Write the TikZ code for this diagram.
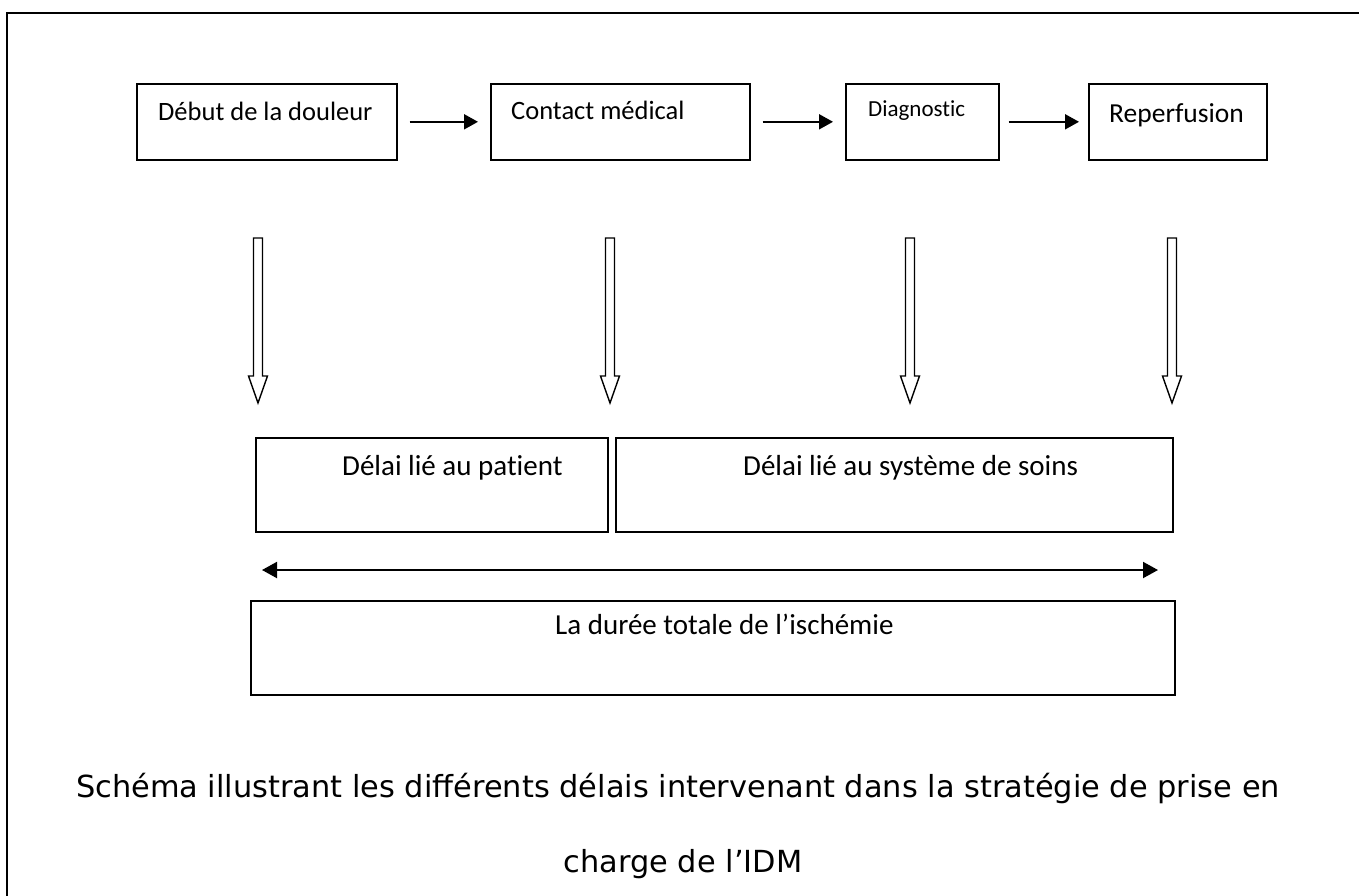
\documentclass[tikz,border=0pt]{standalone}
\usepackage{fontspec}
\setmainfont{Carlito}[Ligatures=NoCommon]
\newfontfamily\capfont{DejaVu Sans}
\usetikzlibrary{arrows.meta}
\tikzset{
  boxnode/.style={draw, line width=1.6pt, rectangle, inner sep=0pt, anchor=north west},
  lbl/.style={anchor=base west, inner sep=0pt, font=\fontsize{26.5}{30}\selectfont},
  lblb/.style={anchor=base west, inner sep=0pt, font=\fontsize{29}{32}\selectfont},
  flow/.style={line width=2pt, -{Triangle[length=14pt,width=15pt]}},
  hollow/.style={draw, line width=1.4pt, fill=white},
  captxt/.style={anchor=base, inner sep=0pt, font=\capfont\fontsize{30.4}{34}\selectfont},
}
\begin{document}
\begin{tikzpicture}[x=1pt,y=-1pt]
\useasboundingbox (0,0) rectangle (1359,895);
\fill[white] (0,0) rectangle (1359,895);
\begin{scope}
\clip (0,0) rectangle (1359,895);
\draw[line width=2pt] (7,910) -- (7,13) -- (1375,13);
\end{scope}

% top boxes
\node[boxnode, minimum width=260pt, minimum height=76pt] (b1) at (136,83) {};
\node[boxnode, minimum width=259pt, minimum height=76pt] (b2) at (490,83) {};
\node[boxnode, minimum width=153pt, minimum height=76pt] (b3) at (845,83) {};
\node[boxnode, minimum width=178pt, minimum height=76pt] (b4) at (1088,83) {};
\node[lbl] (t1) at (158,120) {Début de la douleur};
\node[lbl] (t2) at (511,119) {Contact médical};
\node[anchor=base west, inner sep=0pt, font=\fontsize{23}{26}\selectfont] (t3) at (868,116) {Diagnostic};
\node[anchor=base west, inner sep=0pt, font=\fontsize{27.5}{30}\selectfont] (t4) at (1109,122) {Reperfusion};

\draw[flow] ([xshift=12pt]b1.east) -- ([xshift=-12pt]b2.west);
\draw[flow] ([xshift=12pt]b2.east) -- ([xshift=-12pt]b3.west);
\draw[flow] ([xshift=9pt]b3.east) -- ([xshift=-9pt]b4.west);

% hollow down arrows
\foreach \n/\x in {h1/258, h2/610, h3/910, h4/1172}{
  \coordinate (\n) at (\x,238);
  \draw[hollow] ([xshift=-4.5pt]\n) -- ++(0,138) -- ++(-5,0) -- ++(9.5,27) -- ++(9.5,-27) -- ++(-5,0) -- ++(0,-138) -- cycle;
}

% middle boxes
\node[boxnode, minimum width=352pt, minimum height=94pt] (b5) at (255,437) {};
\node[boxnode, minimum width=557pt, minimum height=94pt] (b6) at (615,437) {};
\node[lblb] (t5) at (342,475) {Délai lié au patient};
\node[lblb] (t6) at (743,475) {Délai lié au système de soins};

% double arrow
\coordinate (dl) at (262,570);
\coordinate (dr) at (1158,570);
\draw[line width=2pt, {Triangle[length=15pt,width=16pt]}-{Triangle[length=15pt,width=16pt]}] (dl) -- (dr);

% total box
\node[boxnode, minimum width=924pt, minimum height=94pt] (b7) at (250,600) {};
\node[lblb] (t7) at (555,634) {La durée totale de l’ischémie};

% caption
\node[captxt] (c1) at (678,797) {Schéma illustrant les différents délais intervenant dans la stratégie de prise en};
\node[captxt] (c2) at (683,872) {charge de l’IDM};
\end{tikzpicture}
\end{document}
